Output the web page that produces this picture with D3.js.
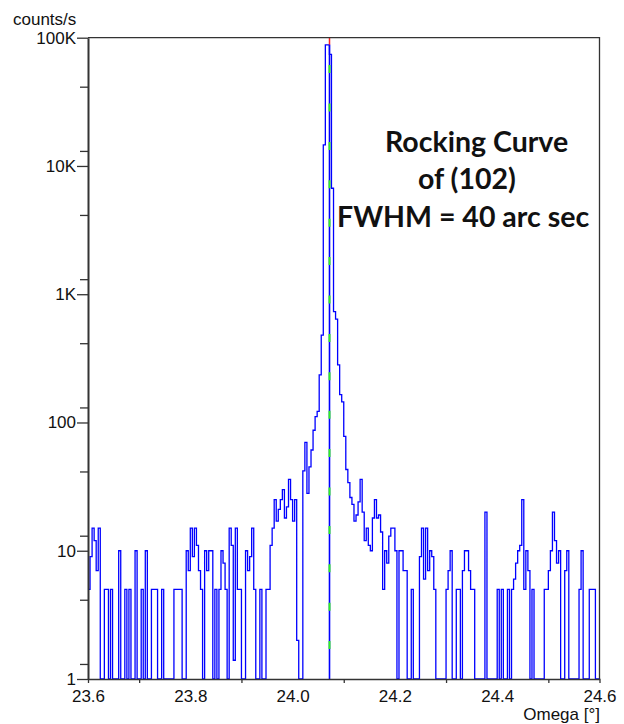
<!DOCTYPE html>
<html>
<head>
<meta charset="utf-8">
<script src="https://cdn.jsdelivr.net/npm/d3@7"></script>
<style>
  body { margin: 0; background: #fff; }
  text { font-family: "Liberation Sans", Arial, sans-serif; }
</style>
</head>
<body>
<div id="chart"></div>
<script>
// scan: omega from 23.6 in steps of 0.004 deg, counts/s (0 = no counts)
const omegaStart = 23.6;
const omegaStep = 0.004;

// 23.600 .. 24.016
const countsLeft = [
  5, 9, 15, 12, 7, 15, 0, 0, 5, 5,
  0, 5, 0, 0, 0, 10, 0, 0, 5, 0,
  5, 0, 0, 10, 0, 0, 5, 0, 10, 0,
  0, 5, 5, 5, 0, 0, 5, 0, 0, 0,
  0, 0, 5, 5, 5, 5, 0, 0, 10, 7,
  15, 9, 15, 11, 7, 5, 0, 10, 7, 10,
  10, 0, 5, 0, 5, 10, 8, 5, 0, 15,
  11, 1.4, 15, 5, 5, 0, 0, 10, 7, 9,
  15, 5, 0, 0, 5, 0, 0, 5, 5, 11,
  15, 25, 17, 21, 25, 30, 18, 22, 36, 25,
  17, 25, 2, 0, 0
];

// 24.020 .. 24.120
const countsPeak = [
  42, 70, 28, 45, 61, 87, 111, 122, 235, 480,
  14600, 88000, 88000, 74000, 6700, 731, 640, 281, 165, 145,
  78, 43, 34, 26, 23, 17
];

// 24.124 .. 24.600
const countsRight = [
  19, 24, 36, 20, 12, 15, 11, 10, 18,
  25, 18, 19, 14, 5, 10, 8, 13, 15, 15,
  10, 0, 10, 10, 7, 7, 0, 0, 5, 0,
  0, 0, 9, 15, 6, 15, 7, 10, 9, 5,
  0, 0, 0, 0, 0, 5, 7, 10, 0, 0,
  5, 5, 0, 7, 10, 10, 7, 5, 5, 0,
  0, 0, 0, 0, 20, 0, 0, 0, 0, 0,
  5, 0, 5, 0, 0, 5, 0, 5, 6, 8,
  10, 11, 25, 5, 10, 7, 0, 5, 0, 0,
  0, 0, 0, 5, 5, 7, 10, 20, 12, 8,
  10, 0, 0, 7, 10, 0, 0, 0, 0, 0,
  5, 10, 0, 0, 0, 5, 5, 5, 0, 0, 0
];

const peakOmega = 24.072;
const peakCounts = 88000;

const yTicks = [1, 10, 100, 1000, 10000, 100000];
const yTickLabels = ["1", "10", "100", "1K", "10K", "100K"];
const yMinorTicks = [1.31, 4.15, 13.1, 41.5, 131, 415, 1310, 4150, 13100, 41500];
const xTicks = [23.6, 23.8, 24.0, 24.2, 24.4, 24.6];
const xMinorTicks = [23.7, 23.9, 24.1, 24.3, 24.5];

const yTitle = "counts/s";
const xTitle = "Omega [°]";
const noteLines = ["Rocking Curve", "of (102)", "FWHM = 40 arc sec"];

const counts = countsLeft.concat(countsPeak, countsRight);
const data = counts.map((c, i) => ({ omega: omegaStart + i * omegaStep, counts: c }));

const W = 624, H = 724;
const margin = { top: 37.7, right: 24.5, bottom: 45, left: 88 };
const width = W - margin.left - margin.right;
const height = H - margin.top - margin.bottom;
const axisColor = '#333';

const svg = d3.select('#chart').append('svg')
  .attr('width', W)
  .attr('height', H);

const g = svg.append('g')
  .attr('transform', `translate(${margin.left},${margin.top})`);

const x = d3.scaleLinear().domain([23.6, 24.6]).range([0, width]);
const y = d3.scaleLog().domain([1, 100000]).range([height, 0]);

g.append('clipPath').attr('id', 'plot-clip')
  .append('rect').attr('width', width).attr('height', height);

// curve
const line = d3.line()
  .x(d => x(d.omega))
  .y(d => y(Math.max(1, d.counts)))
  .curve(d3.curveStepAfter);

g.append('path')
  .datum(data)
  .attr('clip-path', 'url(#plot-clip)')
  .attr('fill', 'none')
  .attr('stroke', '#0000ff')
  .attr('stroke-width', 1.3)
  .attr('d', line);

// peak marker: red above the peak, blue with green dashes below it
const px = Math.round(x(peakOmega)) + 0.5;
g.append('line')
  .attr('x1', px).attr('x2', px)
  .attr('y1', 0).attr('y2', y(peakCounts))
  .attr('stroke', '#ff2020').attr('stroke-width', 1.5);

g.append('line')
  .attr('x1', px).attr('x2', px)
  .attr('y1', y(peakCounts)).attr('y2', height)
  .attr('stroke', '#0000ff').attr('stroke-width', 1.6);

g.append('line')
  .attr('x1', px).attr('x2', px)
  .attr('y1', 0).attr('y2', height)
  .attr('stroke', '#33ee22').attr('stroke-width', 2)
  .attr('stroke-dasharray', '8,30.4')
  .attr('stroke-dashoffset', 11);

// frame (top and right)
g.append('path')
  .attr('d', `M0,0H${width}V${height}`)
  .attr('fill', 'none')
  .attr('stroke', axisColor)
  .attr('stroke-width', 1.3);

// y axis
const yAxisMinor = g.append('g')
  .call(d3.axisLeft(y).tickValues(yMinorTicks).tickSize(8).tickFormat(''));
yAxisMinor.select('.domain').remove();

const yAxis = g.append('g')
  .call(d3.axisLeft(y).tickValues(yTicks).tickSize(11).tickSizeOuter(0).tickPadding(1)
    .tickFormat((d, i) => yTickLabels[i]));
yAxis.select('.domain').attr('stroke-width', 2);

// x axis
const xAxisMinor = g.append('g')
  .attr('transform', `translate(0,${height})`)
  .call(d3.axisBottom(x).tickValues(xMinorTicks).tickSize(4).tickFormat(''));
xAxisMinor.select('.domain').attr('stroke-width', 1.3);

const xAxis = g.append('g')
  .attr('transform', `translate(0,${height})`)
  .call(d3.axisBottom(x).tickValues(xTicks).tickSize(0).tickPadding(10.5)
    .tickFormat(d3.format('.1f')));
xAxis.select('.domain').remove();

[yAxisMinor, yAxis, xAxisMinor, xAxis].forEach(a => {
  a.selectAll('line').attr('stroke', axisColor).attr('stroke-width', 1.3);
  a.selectAll('.domain').attr('stroke', axisColor);
  a.selectAll('text')
    .attr('fill', '#111')
    .style('font-size', '17px')
    .style('font-family', '"Liberation Sans", Arial, sans-serif');
});

svg.append('text')
  .attr('x', 13).attr('y', 24.5)
  .attr('fill', '#111')
  .style('font-size', '17px')
  .text(yTitle);

svg.append('text')
  .attr('x', 600).attr('y', 720)
  .attr('text-anchor', 'end')
  .attr('fill', '#111')
  .style('font-size', '17px')
  .text(xTitle);

// annotation
const notePos = [[385, 152], [418, 189], [337, 227]];
svg.append('g')
  .selectAll('text')
  .data(noteLines)
  .enter()
  .append('text')
  .attr('x', (d, i) => notePos[i][0])
  .attr('y', (d, i) => notePos[i][1])
  .attr('fill', '#111')
  .style('font-family', 'Lato, "Open Sans", sans-serif')
  .style('font-weight', 700)
  .style('font-size', '28.5px')
  .text(d => d);
</script>
</body>
</html>
